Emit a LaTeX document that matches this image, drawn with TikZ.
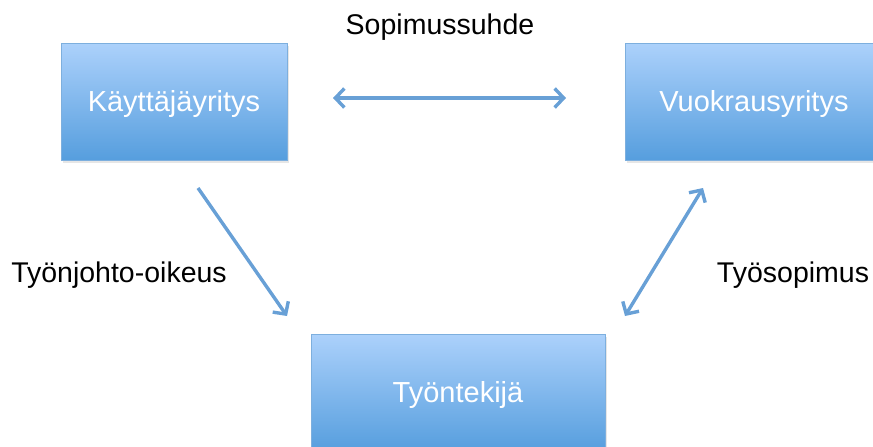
\documentclass[tikz,border=0pt]{standalone}
\usepackage{fontspec}
\setmainfont{Liberation Sans}
\usetikzlibrary{arrows.meta,shadows}
\definecolor{boxtop}{RGB}{172,209,251}
\definecolor{boxbot}{RGB}{86,158,222}
\definecolor{boxedge}{RGB}{125,175,222}
\definecolor{arrowc}{RGB}{104,160,214}
\tikzset{
  bluebox/.style={rectangle, draw=boxedge, line width=0.8pt, top color=boxtop, bottom color=boxbot,
    text=white, font=\fontsize{29}{34}\selectfont, inner sep=0pt, text depth=1pt,
    drop shadow={shadow xshift=1.5pt, shadow yshift=-2.5pt, opacity=0.2}},
  lbl/.style={font=\fontsize{28.5}{34}\selectfont, text=black, inner sep=0pt},
  conn/.style={draw=arrowc, line width=3.4pt},
  >={Straight Barb[length=9pt,width=19pt,line width=3.4pt]}
}
\begin{document}
\begin{tikzpicture}[x=1pt,y=-1pt]
\useasboundingbox (0,0) rectangle (873,447);
\clip (0,0) rectangle (873,447);
\node[bluebox, minimum width=226pt, minimum height=117pt] (ka) at (174,101.5) {Käyttäjäyritys};
\node[bluebox, minimum width=258pt, minimum height=117pt] (vu) at (754,101.5) {Vuokrausyritys};
\node[bluebox, minimum width=294pt, minimum height=117pt] (ty) at (458,392.5) {Työntekijä};
\node[lbl] (l1) at (440,27) {Sopimussuhde};
\node[lbl] (l2) at (119,275) {Työnjohto-oikeus};
\node[lbl] (l3) at (793,275) {Työsopimus};
\coordinate (a1s) at (333,98);
\coordinate (a1e) at (566,98);
\coordinate (a2s) at (198,188);
\coordinate (a2e) at (287,316);
\coordinate (a3s) at (703,188);
\coordinate (a3e) at (625,316);
\draw[conn, <->] (a1s) -- (a1e);
\draw[conn, ->] (a2s) -- (a2e);
\draw[conn, <->] (a3s) -- (a3e);
\end{tikzpicture}
\end{document}
